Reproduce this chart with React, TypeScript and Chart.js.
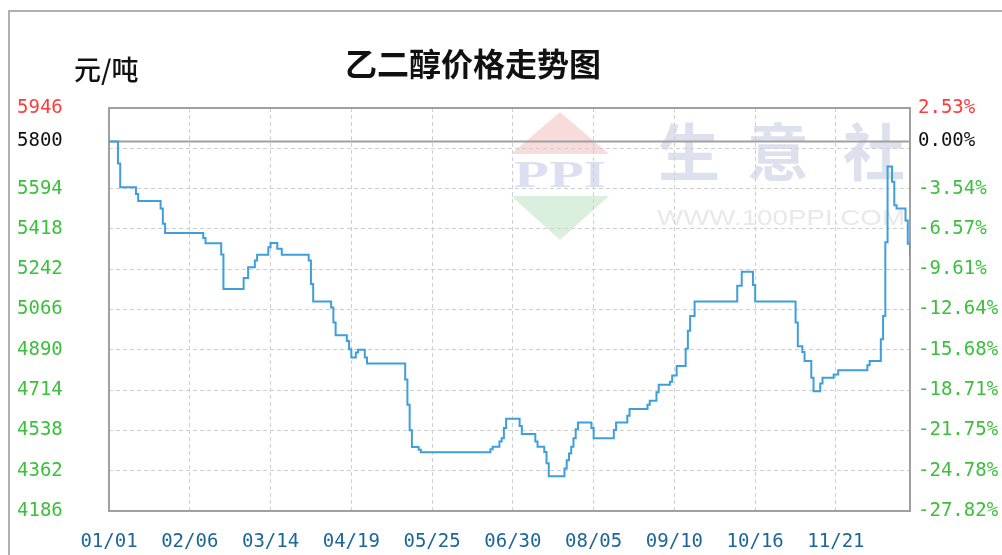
import React, { useEffect, useRef } from "react";
import { Chart, registerables } from "chart.js";

Chart.register(...registerables);

// ---- data ----
const days = [
  0, 4, 5, 12, 13, 23, 24, 25, 42, 43, 50, 51, 60, 62, 65, 66, 71, 72, 75, 77,
  89, 90, 91, 99, 100, 101, 106, 107, 108, 110, 111, 114, 115, 132, 133, 134, 135, 138, 139,
  170, 171, 174, 175, 176, 177, 183, 184, 190, 191, 194, 195, 196, 203, 204, 205, 206, 207,
  208, 209, 215, 216, 225, 226, 231, 232, 240, 241, 244, 245, 250, 251, 253, 257, 258, 259,
  261, 280, 282, 287, 288, 306, 307, 309, 310, 313, 314, 317, 318, 323, 325, 338, 339, 344,
  345, 346, 347, 349, 350, 351, 355, 356, 357,
];
const prices = [
  5800, 5704, 5600, 5570, 5540, 5507, 5441, 5400, 5378, 5355, 5306, 5155, 5204, 5250, 5280, 5305, 5338, 5356, 5331, 5305,
  5280, 5177, 5101, 5075, 5009, 4953, 4928, 4892, 4856, 4878, 4890, 4856, 4830, 4760, 4650, 4539, 4465, 4453, 4443,
  4456, 4467, 4489, 4504, 4548, 4589, 4557, 4522, 4489, 4467, 4444, 4394, 4338, 4372, 4408, 4437, 4467, 4504,
  4543, 4573, 4548, 4504, 4540, 4573, 4602, 4632, 4650, 4668, 4705, 4737, 4751, 4778, 4819, 4895, 4973, 5038,
  5101, 5170, 5231, 5173, 5101, 5009, 4906, 4880, 4841, 4768, 4709, 4743, 4768, 4782, 4801, 4823, 4841, 4936,
  5038, 5360, 5690, 5624, 5521, 5507, 5455, 5353, 5302,
];

const xTickDays = [0, 36, 72, 108, 144, 180, 216, 252, 288, 324];
const xTickLabels = ["01/01", "02/06", "03/14", "04/19", "05/25", "06/30", "08/05", "09/10", "10/16", "11/21"];
const xMax = 357;

const yTickValues = [4186, 4362, 4538, 4714, 4890, 5066, 5242, 5418, 5594, 5770, 5800, 5946];
const leftTickLabels = ["4186", "4362", "4538", "4714", "4890", "5066", "5242", "5418", "5594", "", "5800", "5946"];
const rightTickLabels = ["-27.82%", "-24.78%", "-21.75%", "-18.71%", "-15.68%", "-12.64%", "-9.61%", "-6.57%", "-3.54%", "", "0.00%", "2.53%"];
const basePrice = 5800;
const yMin = 4186;
const yMax = 5946;

const titleText = "乙二醇价格走势图";
const unitText = "元/吨";
const watermarkChars = ["生", "意", "社"];
const watermarkUrl = "WWW.100PPI.COM";
const logoText = "PPI";

const RED = "#ff3b3b";
const GREEN = "#3cbf3c";
const BLACK = "#111111";
const XBLUE = "#1d6796";
const LINE = "#3e9fdc";
const MONO = '"DejaVu Sans Mono", "Liberation Mono", monospace';
const CJK = '"Noto Sans CJK SC", "Noto Sans", sans-serif';

function tickColor(v: number) {
  if (v > basePrice) return RED;
  if (v === basePrice) return BLACK;
  return GREEN;
}

const decorPlugin = {
  id: "decor",
  beforeDraw(chart: any) {
    const ctx = chart.ctx;
    ctx.save();
    ctx.fillStyle = "#ffffff";
    ctx.fillRect(0, 0, chart.width, chart.height);
    // page frame
    ctx.strokeStyle = "#b0b0b0";
    ctx.lineWidth = 2;
    ctx.beginPath();
    ctx.moveTo(9, chart.height);
    ctx.lineTo(9, 11);
    ctx.lineTo(chart.width, 11);
    ctx.stroke();

    // watermark: 生意社
    ctx.fillStyle = "rgba(205,212,230,0.7)";
    ctx.font = `bold 62px ${CJK}`;
    ctx.textAlign = "center";
    ctx.textBaseline = "middle";
    const cx = [689, 778, 874];
    watermarkChars.forEach((c, i) => ctx.fillText(c, cx[i], 152));

    // WWW.100PPI.COM
    ctx.fillStyle = "rgba(220,220,220,0.65)";
    ctx.font = `22px "Liberation Sans", Arial, sans-serif`;
    const w = ctx.measureText(watermarkUrl).width;
    ctx.save();
    ctx.translate(781, 219);
    ctx.scale(248 / w, 1);
    ctx.fillText(watermarkUrl, 0, 0);
    ctx.restore();

    // PPI logo
    ctx.fillStyle = "rgba(245,205,205,0.7)";
    ctx.beginPath();
    ctx.moveTo(560, 112);
    ctx.lineTo(609, 154);
    ctx.lineTo(511, 154);
    ctx.closePath();
    ctx.fill();
    ctx.fillStyle = "rgba(205,234,210,0.75)";
    ctx.beginPath();
    ctx.moveTo(511, 196);
    ctx.lineTo(609, 196);
    ctx.lineTo(560, 240);
    ctx.closePath();
    ctx.fill();
    ctx.fillStyle = "rgba(205,214,234,0.75)";
    ctx.font = `bold 38px "Liberation Serif", serif`;
    const pw = ctx.measureText(logoText).width;
    ctx.save();
    ctx.translate(560, 177);
    ctx.scale(92 / pw, 1);
    ctx.fillText(logoText, 0, 0);
    ctx.restore();
    ctx.restore();
  },
  beforeDatasetsDraw(chart: any) {
    const ctx = chart.ctx;
    const a = chart.chartArea;
    const y = chart.scales.y.getPixelForValue(basePrice);
    ctx.save();
    ctx.strokeStyle = "#a0a0a0";
    ctx.lineWidth = 2;
    ctx.strokeRect(a.left, a.top, a.right - a.left, a.bottom - a.top);
    ctx.beginPath();
    ctx.moveTo(a.left, y);
    ctx.lineTo(a.right, y);
    ctx.stroke();
    ctx.restore();
  },
  afterDraw(chart: any) {
    const ctx = chart.ctx;
    ctx.save();
    ctx.fillStyle = "#111";
    ctx.textBaseline = "middle";
    ctx.textAlign = "center";
    ctx.font = `bold 32px ${CJK}`;
    ctx.fillText(titleText, 473, 64);
    ctx.textAlign = "left";
    ctx.font = `500 27px ${CJK}`;
    ctx.fillText(unitText, 74, 70);
    ctx.restore();
  },
};

export default function App() {
  const ref = useRef<HTMLCanvasElement | null>(null);
  useEffect(() => {
    if (!ref.current) return;
    const setYTicks = (scale: any) => {
      scale.ticks = yTickValues.map((v) => ({ value: v }));
    };
    const chart = new Chart(ref.current, {
      type: "line",
      data: {
        datasets: [
          {
            data: days.map((d, i) => ({ x: d, y: prices[i] })),
            stepped: true,
            borderColor: LINE,
            borderWidth: 2,
            pointRadius: 0,
            fill: false,
            yAxisID: "y",
          },
        ],
      },
      options: {
        animation: false,
        responsive: false,
        maintainAspectRatio: false,
        layout: { padding: { left: 17, top: 108, right: 0, bottom: 0 } },
        plugins: { legend: { display: false }, tooltip: { enabled: false }, title: { display: false } },
        scales: {
          x: {
            type: "linear",
            min: 0,
            max: xMax,
            afterBuildTicks: (scale: any) => {
              scale.ticks = xTickDays.map((v) => ({ value: v }));
            },
            afterFit: (scale: any) => {
              scale.height = 44;
            },
            grid: { color: "#cfcfcf", lineWidth: 1, drawTicks: false },
            border: { display: false, dash: [4, 3] },
            ticks: {
              autoSkip: false,
              maxRotation: 0,
              padding: 20,
              color: XBLUE,
              font: { family: MONO, size: 19 },
              callback: (v: any) => {
                const i = xTickDays.indexOf(Number(v));
                return i >= 0 ? xTickLabels[i] : "";
              },
            },
          },
          y: {
            type: "linear",
            position: "left",
            min: yMin,
            max: yMax,
            afterBuildTicks: setYTicks,
            afterFit: (scale: any) => {
              scale.width = 92;
            },
            grid: {
              color: (c: any) => (c.tick && c.tick.value === basePrice ? "rgba(0,0,0,0)" : "#cfcfcf"),
              lineWidth: 1,
              drawTicks: false,
            },
            border: { display: false, dash: [4, 3] },
            ticks: {
              autoSkip: false,
              crossAlign: "far",
              padding: 0,
              color: (c: any) => tickColor(c.tick ? c.tick.value : 0),
              font: { family: MONO, size: 19 },
              callback: (v: any) => {
                const i = yTickValues.indexOf(Number(v));
                return i >= 0 ? leftTickLabels[i] : "";
              },
            },
          },
          y1: {
            type: "linear",
            position: "right",
            display: true,
            min: yMin,
            max: yMax,
            afterBuildTicks: setYTicks,
            afterFit: (scale: any) => {
              scale.width = 92;
            },
            grid: { display: false, drawTicks: false },
            border: { display: false },
            ticks: {
              autoSkip: false,
              padding: 8,
              color: (c: any) => tickColor(c.tick ? c.tick.value : 0),
              font: { family: MONO, size: 19 },
              callback: (v: any) => {
                const i = yTickValues.indexOf(Number(v));
                return i >= 0 ? rightTickLabels[i] : "";
              },
            },
          },
        },
      } as any,
      plugins: [decorPlugin],
    });
    return () => chart.destroy();
  }, []);
  return (
    <div style={{ position: "absolute", left: 0, top: 0, width: 1002, height: 555, background: "#fff" }}>
      <canvas ref={ref} width={1002} height={555} style={{ display: "block", width: 1002, height: 555 }} />
    </div>
  );
}
